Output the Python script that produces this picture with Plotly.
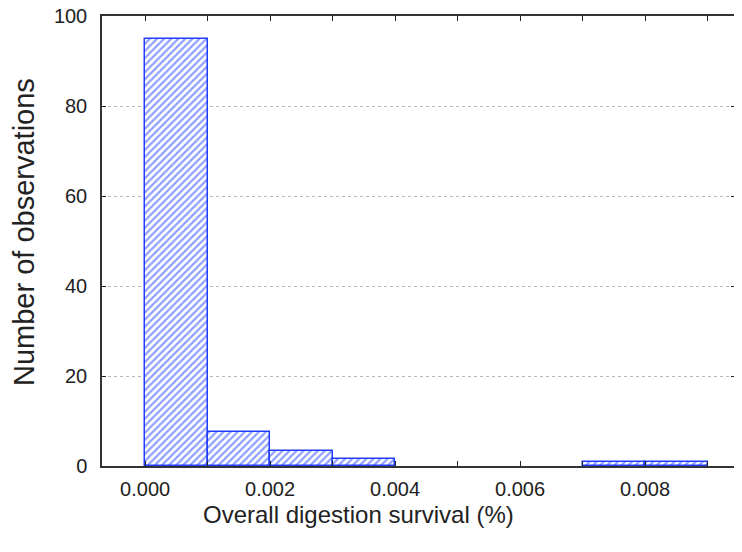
import plotly.graph_objects as go

# Histogram data
bin_starts = [0.000, 0.001, 0.002, 0.003, 0.004, 0.005, 0.006, 0.007, 0.008]
counts = [95, 7.5, 3.4, 1.6, 0, 0, 0, 0.8, 0.8]
bin_width = 0.001

x_tick_vals = [0.000, 0.002, 0.004, 0.006, 0.008]
x_tick_text = ["0.000", "0.002", "0.004", "0.006", "0.008"]
y_tick_vals = [0, 20, 40, 60, 80, 100]

xs = [b + bin_width / 2 for b, c in zip(bin_starts, counts) if c > 0]
ys = [c for c in counts if c > 0]

blue = "#1f3cff"
font_family = "Liberation Sans, Arial, sans-serif"
text_color = "#222222"

# page body has an 8px margin; figure sized to fit the 742x552 window
OFF = 8
W, H = 742 - OFF, 552 - OFF
ML, MR, MT, MB = 102 - OFF, 7, 16 - OFF, 86
PW, PH = W - ML - MR, H - MT - MB

fig = go.Figure(
    go.Bar(
        x=xs,
        y=ys,
        width=bin_width,
        marker=dict(
            color="white",
            line=dict(color=blue, width=1.5),
            pattern=dict(shape="/", fgcolor=blue, bgcolor="white", size=5, solidity=0.45),
        ),
    )
)

fig.update_layout(
    width=W,
    height=H,
    paper_bgcolor="white",
    plot_bgcolor="white",
    margin=dict(l=ML, r=MR, t=MT, b=MB, autoexpand=False),
    showlegend=False,
    font=dict(family=font_family, color=text_color, size=20),
    bargap=0,
)

fig.update_xaxes(
    range=[-0.00069, 0.00944],
    tickvals=x_tick_vals,
    ticktext=x_tick_text,
    ticks="inside",
    ticklen=5,
    tickcolor="#222",
    showline=True,
    linecolor="#333",
    linewidth=1.5,
    mirror="allticks",
    showgrid=False,
    zeroline=False,
    automargin=False,
    ticklabeloverflow="allow",
    tickfont=dict(size=20, color=text_color),
    ticklabelstandoff=4,
    minor=dict(dtick=0.001, tick0=0, ticks="inside", ticklen=5, tickcolor="#222", showgrid=False),
)

fig.update_yaxes(
    range=[0, 100],
    tickvals=y_tick_vals,
    ticks="inside",
    ticklen=4,
    tickcolor="#222",
    showline=True,
    linecolor="#333",
    linewidth=1.5,
    mirror="allticks",
    showgrid=True,
    gridcolor="#b8b8b8",
    griddash="dot",
    gridwidth=1,
    zeroline=False,
    automargin=False,
    ticklabeloverflow="allow",
    tickfont=dict(size=20, color=text_color),
    ticklabelstandoff=9,
)

fig.add_annotation(
    text="Overall digestion survival (%)",
    xref="paper", yref="paper",
    x=(358 - 102) / PW, y=-(515 - 466) / PH,
    xanchor="center", yanchor="middle",
    showarrow=False,
    borderpad=0,
    font=dict(size=24, color=text_color, family=font_family),
)

fig.add_annotation(
    text="Number of observations",
    xref="paper", yref="paper",
    x=-(102 - 24) / PW, y=(466 - 232) / PH,
    xanchor="center", yanchor="middle",
    textangle=-90,
    showarrow=False,
    borderpad=0,
    font=dict(size=29, color=text_color, family=font_family),
)

fig.write_html("out.html")
